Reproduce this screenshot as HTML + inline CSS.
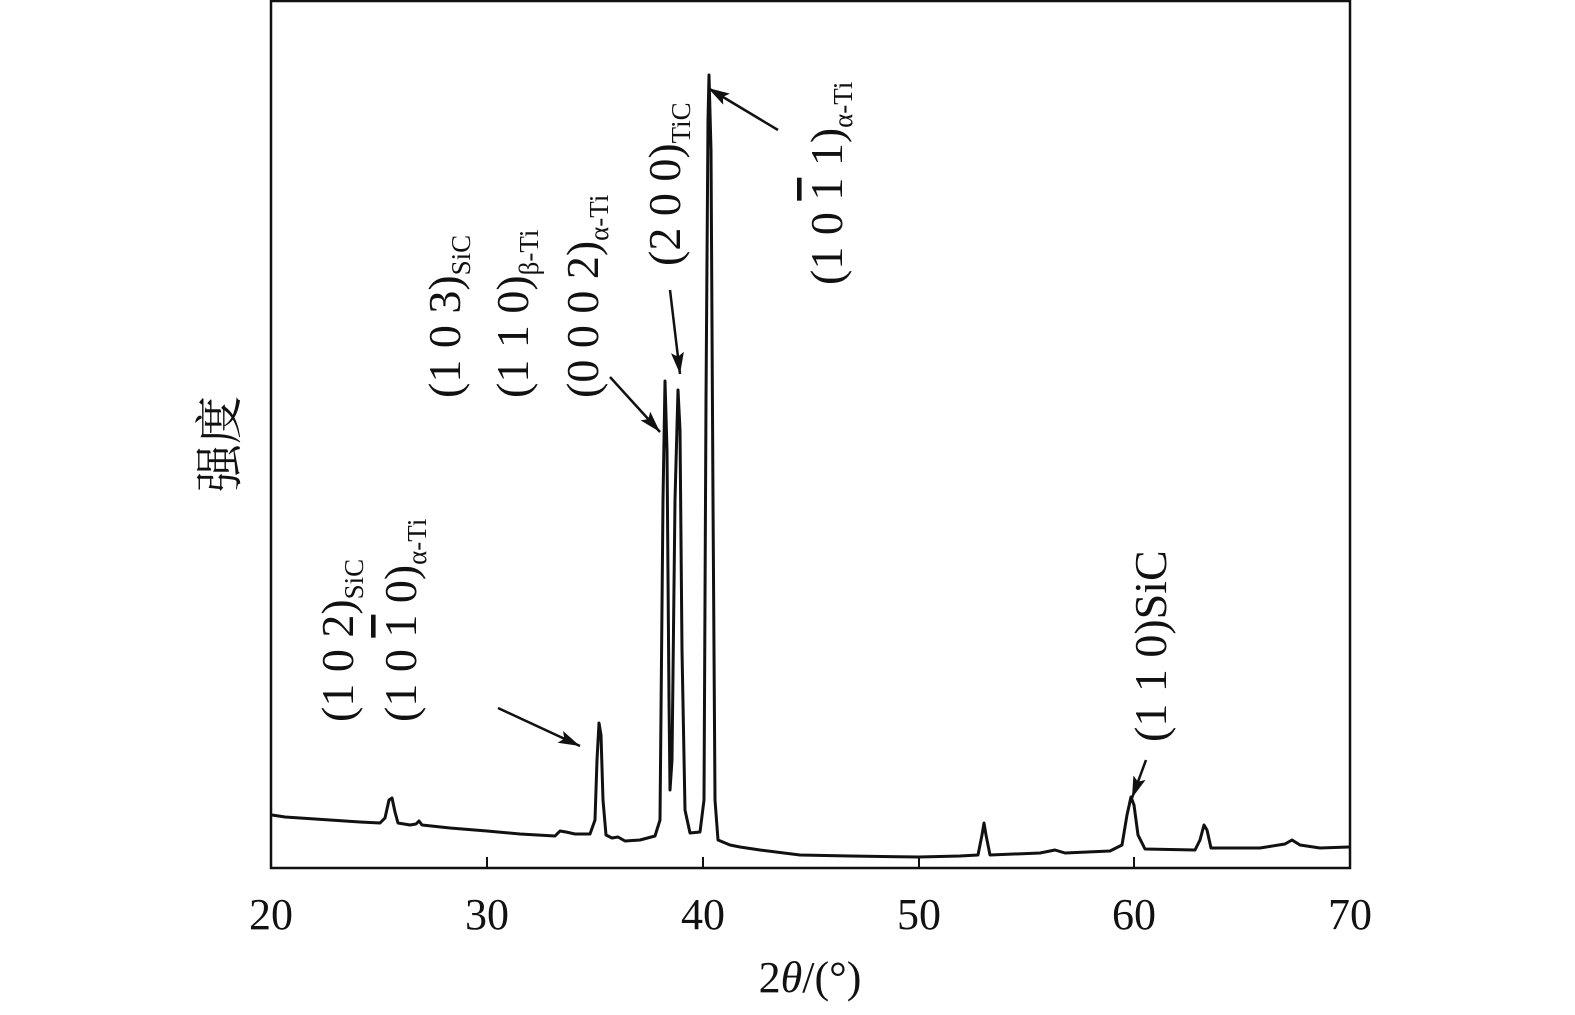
<!DOCTYPE html>
<html><head><meta charset="utf-8"><style>
html,body{margin:0;padding:0;background:#fff;}
svg{display:block;}
text{font-family:"Liberation Serif","Noto Serif CJK SC",serif;fill:#111;}
</style></head><body>
<svg width="1575" height="1015" viewBox="0 0 1575 1015" xmlns="http://www.w3.org/2000/svg">
<defs>
<marker id="a2" viewBox="0 0 20 12" markerWidth="22" markerHeight="13" refX="20" refY="6" orient="auto" markerUnits="userSpaceOnUse"><path d="M0,0 L20,6 L0,12 L4,6 z" fill="#111"/></marker></defs>
<rect x="271" y="1" width="1079" height="867" fill="none" stroke="#111" stroke-width="2.5"/>
<g stroke="#111" stroke-width="2">
<line x1="487" y1="868" x2="487" y2="857"/><line x1="703" y1="868" x2="703" y2="857"/><line x1="919" y1="868" x2="919" y2="857"/><line x1="1134" y1="868" x2="1134" y2="857"/>
</g>
<path fill="none" stroke="#111" stroke-width="3" stroke-linejoin="round" d="M272,815 L285,817 L300,818 L330,820 L360,822 L380,823 L385,818 L389,800 L392,798 L395,812 L398,823 L410,825 L416,824 L419,821 L422,825 L450,828 L487,831 L520,834 L555,836 L560,831 L566,832 L575,834 L590,834 L595,820 L597,760 L599,723 L601,735 L603,800 L606,835 L612,838 L618,837 L625,841 L640,840 L655,836 L660,820 L663,500 L665,381 L667,450 L669,700 L670,790 L672,760 L675,500 L678,390 L680,430 L682,650 L685,810 L690,833 L700,832 L704,800 L706,400 L708,120 L709,75 L711,150 L713,500 L715,800 L718,840 L730,845 L740,847 L760,850 L800,855 L850,856 L919,857 L960,856 L978,855 L982,835 L984,823 L986,835 L990,855 L1040,853 L1055,850 L1065,853 L1110,851 L1122,845 L1127,815 L1131,797 L1134,805 L1138,835 L1145,849 L1195,850 L1200,840 L1204,825 L1207,830 L1211,848 L1260,848 L1285,844 L1292,840 L1300,845 L1320,848 L1349,847"/>
<g stroke="#111" stroke-width="2.5" marker-end="url(#a2)">
<line x1="498" y1="708" x2="580" y2="746"/>
<line x1="610" y1="377" x2="660" y2="432"/>
<line x1="670" y1="290" x2="680" y2="374"/>
<line x1="778" y1="130" x2="708" y2="88"/>
<line x1="1146" y1="760" x2="1132" y2="798"/>
</g>
<g font-size="46">
<text transform="translate(353,722) rotate(-90)">(1 0 2)<tspan font-size="27" dy="10">SiC</tspan></text>
<text transform="translate(416,722) rotate(-90)">(1 0 <tspan text-decoration="overline">1</tspan> 0)<tspan font-size="27" dy="10">α-Ti</tspan></text>
<text transform="translate(460,398) rotate(-90)">(1 0 3)<tspan font-size="27" dy="10">SiC</tspan></text>
<text transform="translate(528,398) rotate(-90)">(1 1 0)<tspan font-size="27" dy="10">β-Ti</tspan></text>
<text transform="translate(598,398) rotate(-90)">(0 0 0 2)<tspan font-size="27" dy="10">α-Ti</tspan></text>
<text transform="translate(680,266) rotate(-90)">(2 0 0)<tspan font-size="27" dy="10">TiC</tspan></text>
<text transform="translate(842,285) rotate(-90)">(1 0 <tspan text-decoration="overline">1</tspan> 1)<tspan font-size="27" dy="10">α-Ti</tspan></text>
<text transform="translate(1166,742) rotate(-90)">(1 1 0)SiC</text>
<text transform="translate(236,492) rotate(-90)" font-size="48">强度</text>
</g>
<g font-size="44" text-anchor="middle">
<text x="271" y="929">20</text><text x="487" y="929">30</text><text x="703" y="929">40</text><text x="919" y="929">50</text><text x="1134" y="929">60</text><text x="1350" y="929">70</text>
<text x="810" y="992">2<tspan font-style="italic">θ</tspan>/(°)</text>
</g>
</svg>
</body></html>
